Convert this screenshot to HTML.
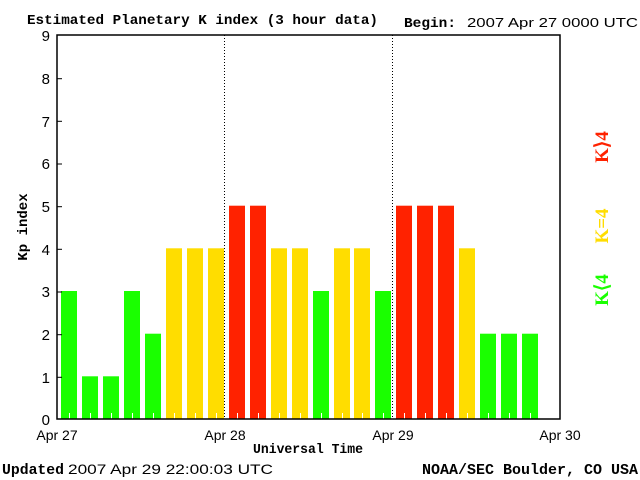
<!DOCTYPE html>
<html><head><style>body{margin:0;background:#fff}svg{display:block}</style></head><body>
<svg width="640" height="480" xmlns="http://www.w3.org/2000/svg">
<rect width="640" height="480" fill="#fff"/>
<text x="27" y="24" font-family="Liberation Mono,monospace" font-weight="bold" font-size="14" textLength="351" lengthAdjust="spacingAndGlyphs">Estimated Planetary K index (3 hour data)</text>
<text x="404" y="27" font-family="Liberation Mono,monospace" font-weight="bold" font-size="14" textLength="52" lengthAdjust="spacingAndGlyphs">Begin:</text>
<text x="467" y="27" font-family="Liberation Sans,sans-serif" font-size="13" textLength="171" lengthAdjust="spacingAndGlyphs">2007 Apr 27 0000 UTC</text>
<g fill="#1aff00">
<rect x="61" y="291" width="16" height="128"/>
<rect x="82" y="376.3" width="16" height="42.7"/>
<rect x="103" y="376.3" width="16" height="42.7"/>
<rect x="124" y="291" width="16" height="128"/>
<rect x="145" y="333.7" width="16" height="85.3"/>
<rect x="313" y="291" width="16" height="128"/>
<rect x="375" y="291" width="16" height="128"/>
<rect x="480" y="333.7" width="16" height="85.3"/>
<rect x="501" y="333.7" width="16" height="85.3"/>
<rect x="522" y="333.7" width="16" height="85.3"/>
</g>
<g fill="#ffdd00">
<rect x="166" y="248.3" width="16" height="170.7"/>
<rect x="187" y="248.3" width="16" height="170.7"/>
<rect x="208" y="248.3" width="16" height="170.7"/>
<rect x="271" y="248.3" width="16" height="170.7"/>
<rect x="292" y="248.3" width="16" height="170.7"/>
<rect x="334" y="248.3" width="16" height="170.7"/>
<rect x="354" y="248.3" width="16" height="170.7"/>
<rect x="459" y="248.3" width="16" height="170.7"/>
</g>
<g fill="#ff2200">
<rect x="229" y="205.7" width="16" height="213.3"/>
<rect x="250" y="205.7" width="16" height="213.3"/>
<rect x="396" y="205.7" width="16" height="213.3"/>
<rect x="417" y="205.7" width="16" height="213.3"/>
<rect x="438" y="205.7" width="16" height="213.3"/>
</g>
<g stroke="#fff" stroke-width="1">
<line x1="69.5" y1="413" x2="69.5" y2="419"/><line x1="90.5" y1="413" x2="90.5" y2="419"/><line x1="111.5" y1="413" x2="111.5" y2="419"/><line x1="132.5" y1="413" x2="132.5" y2="419"/><line x1="153.5" y1="413" x2="153.5" y2="419"/><line x1="174.5" y1="413" x2="174.5" y2="419"/><line x1="195.5" y1="413" x2="195.5" y2="419"/><line x1="216.5" y1="413" x2="216.5" y2="419"/><line x1="237.5" y1="413" x2="237.5" y2="419"/><line x1="258.5" y1="413" x2="258.5" y2="419"/><line x1="279.5" y1="413" x2="279.5" y2="419"/><line x1="300.5" y1="413" x2="300.5" y2="419"/><line x1="321.5" y1="413" x2="321.5" y2="419"/><line x1="342.5" y1="413" x2="342.5" y2="419"/><line x1="362.5" y1="413" x2="362.5" y2="419"/><line x1="383.5" y1="413" x2="383.5" y2="419"/><line x1="404.5" y1="413" x2="404.5" y2="419"/><line x1="425.5" y1="413" x2="425.5" y2="419"/><line x1="446.5" y1="413" x2="446.5" y2="419"/><line x1="467.5" y1="413" x2="467.5" y2="419"/><line x1="488.5" y1="413" x2="488.5" y2="419"/><line x1="509.5" y1="413" x2="509.5" y2="419"/><line x1="530.5" y1="413" x2="530.5" y2="419"/>
</g>
<g fill="#000" font-family="Liberation Sans,sans-serif" font-size="15" text-anchor="end">
<text x="50" y="425">0</text><text x="50" y="383">1</text><text x="50" y="340">2</text><text x="50" y="297">3</text><text x="50" y="255">4</text><text x="50" y="212">5</text><text x="50" y="169">6</text><text x="50" y="127">7</text><text x="50" y="84">8</text><text x="50" y="41">9</text>
</g>
<g stroke="#000" stroke-width="1">
<line x1="57" y1="377.3" x2="62" y2="377.3"/><line x1="57" y1="334.7" x2="62" y2="334.7"/><line x1="57" y1="292" x2="62" y2="292"/><line x1="57" y1="249.3" x2="62" y2="249.3"/><line x1="57" y1="206.7" x2="62" y2="206.7"/><line x1="57" y1="164" x2="62" y2="164"/><line x1="57" y1="121.3" x2="62" y2="121.3"/><line x1="57" y1="78.7" x2="62" y2="78.7"/>
<line x1="224.5" y1="35" x2="224.5" y2="419" stroke-dasharray="1,2"/>
<line x1="392.5" y1="35" x2="392.5" y2="419" stroke-dasharray="1,2"/>
</g>
<rect x="57" y="35" width="503" height="384" fill="none" stroke="#000" stroke-width="1.5"/>
<g font-family="Liberation Sans,sans-serif" font-size="14" text-anchor="middle">
<text x="57" y="440">Apr 27</text><text x="225" y="440">Apr 28</text><text x="393" y="440">Apr 29</text><text x="560" y="440">Apr 30</text>
</g>
<text x="253" y="453" font-family="Liberation Mono,monospace" font-weight="bold" font-size="14" textLength="110" lengthAdjust="spacingAndGlyphs">Universal Time</text>
<text transform="translate(27,227) rotate(-90)" font-family="Liberation Mono,monospace" font-weight="bold" font-size="14" text-anchor="middle">Kp index</text>
<g font-family="Liberation Serif,serif" font-weight="bold" font-size="19" text-anchor="middle">
<text transform="translate(608,147) rotate(-90)" fill="#ff2200">K⟩4</text>
<text transform="translate(608,226) rotate(-90)" fill="#ffdd00">K=4</text>
<text transform="translate(608,290) rotate(-90)" fill="#1aff00">K⟨4</text>
</g>
<text x="2" y="474" font-family="Liberation Mono,monospace" font-weight="bold" font-size="15" textLength="62" lengthAdjust="spacingAndGlyphs">Updated</text>
<text x="68" y="474" font-family="Liberation Sans,sans-serif" font-size="14" textLength="205" lengthAdjust="spacingAndGlyphs">2007 Apr 29 22:00:03 UTC</text>
<text x="422" y="474" font-family="Liberation Mono,monospace" font-weight="bold" font-size="15" textLength="216" lengthAdjust="spacingAndGlyphs">NOAA/SEC Boulder, CO USA</text>
</svg>
</body></html>
